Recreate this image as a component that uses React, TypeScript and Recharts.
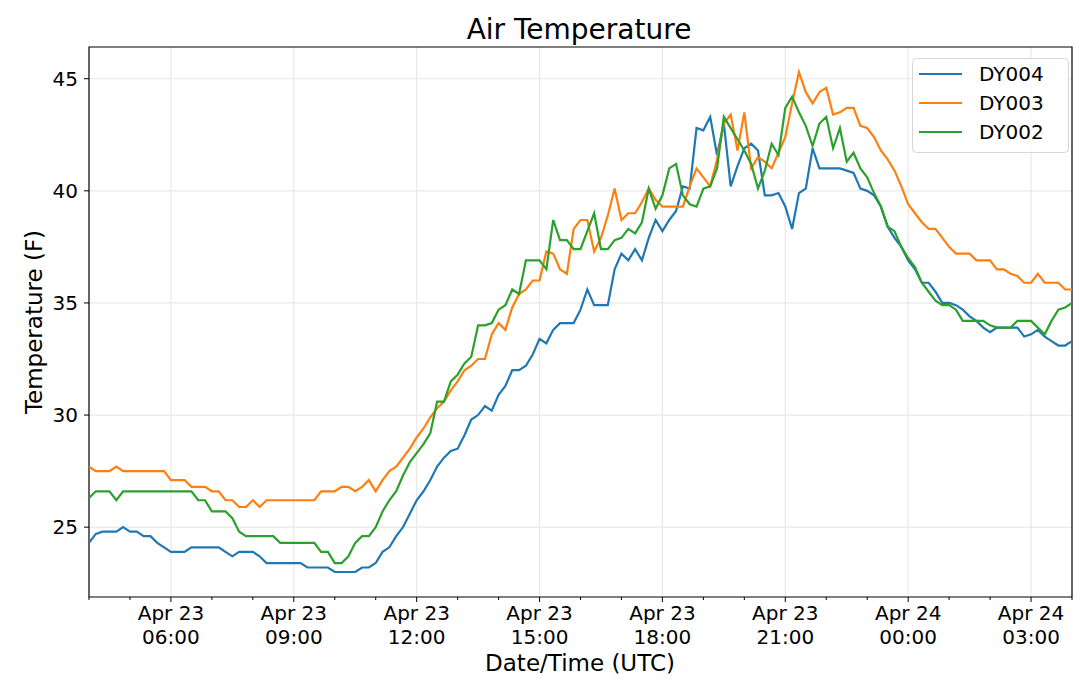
import { LineChart, Line, XAxis, YAxis, CartesianGrid, Legend, ReferenceArea } from "recharts";

// 10-minute readings starting Apr 23 04:00 UTC
const dy004 = [
  24.3, 24.7, 24.8, 24.8, 24.8, 25.0, 24.8, 24.8, 24.6, 24.6,
  24.3, 24.1, 23.9, 23.9, 23.9, 24.1, 24.1, 24.1, 24.1, 24.1,
  23.9, 23.7, 23.9, 23.9, 23.9, 23.7, 23.4, 23.4, 23.4, 23.4,
  23.4, 23.4, 23.2, 23.2, 23.2, 23.2, 23.0, 23.0, 23.0, 23.0,
  23.2, 23.2, 23.4, 23.9, 24.1, 24.6, 25.0, 25.6, 26.2, 26.6,
  27.1, 27.7, 28.1, 28.4, 28.5, 29.1, 29.8, 30.0, 30.4, 30.2,
  30.9, 31.3, 32.0, 32.0, 32.2, 32.7, 33.4, 33.2, 33.8, 34.1,
  34.1, 34.1, 34.7, 35.6, 34.9, 34.9, 34.9, 36.5, 37.2, 36.9,
  37.4, 36.9, 37.9, 38.7, 38.2, 38.7, 39.1, 40.2, 40.1, 42.8,
  42.7, 43.3, 41.6, 43.0, 40.2, 41.1, 41.9, 42.1, 41.8, 39.8,
  39.8, 39.9, 39.3, 38.3, 39.9, 40.1, 41.9, 41.0, 41.0, 41.0,
  41.0, 40.9, 40.8, 40.1, 40.0, 39.8, 39.3, 38.4, 37.9, 37.5,
  36.9, 36.5, 35.9, 35.9, 35.5, 35.0, 35.0, 34.9, 34.7, 34.4,
  34.2, 33.9, 33.7, 33.9, 33.9, 33.9, 33.9, 33.5, 33.6, 33.8,
  33.5, 33.3, 33.1, 33.1, 33.3,
];

const dy003 = [
  27.7, 27.5, 27.5, 27.5, 27.7, 27.5, 27.5, 27.5, 27.5, 27.5,
  27.5, 27.5, 27.1, 27.1, 27.1, 26.8, 26.8, 26.8, 26.6, 26.6,
  26.2, 26.2, 25.9, 25.9, 26.2, 25.9, 26.2, 26.2, 26.2, 26.2,
  26.2, 26.2, 26.2, 26.2, 26.6, 26.6, 26.6, 26.8, 26.8, 26.6,
  26.8, 27.1, 26.6, 27.1, 27.5, 27.7, 28.1, 28.5, 29.0, 29.4,
  29.9, 30.3, 30.6, 31.1, 31.5, 32.0, 32.2, 32.5, 32.5, 33.6,
  34.1, 33.8, 34.8, 35.4, 35.6, 36.0, 36.0, 37.3, 37.2, 36.5,
  36.3, 38.3, 38.7, 38.7, 37.3, 37.9, 38.9, 40.1, 38.7, 39.0,
  39.0, 39.5, 40.1, 39.6, 39.3, 39.3, 39.3, 39.3, 40.2, 41.0,
  40.6, 40.2, 41.4, 43.0, 43.4, 41.8, 43.5, 41.0, 41.5, 41.3,
  41.0, 41.7, 42.4, 43.9, 45.3, 44.4, 43.9, 44.4, 44.6, 43.4,
  43.5, 43.7, 43.7, 42.9, 42.8, 42.4, 41.8, 41.4, 40.9, 40.2,
  39.4, 39.0, 38.6, 38.3, 38.3, 37.9, 37.5, 37.2, 37.2, 37.2,
  36.9, 36.9, 36.9, 36.5, 36.5, 36.3, 36.2, 35.9, 35.9, 36.3,
  35.9, 35.9, 35.9, 35.6, 35.6,
];

const dy002 = [
  26.3, 26.6, 26.6, 26.6, 26.2, 26.6, 26.6, 26.6, 26.6, 26.6,
  26.6, 26.6, 26.6, 26.6, 26.6, 26.6, 26.2, 26.2, 25.7, 25.7,
  25.7, 25.4, 24.8, 24.6, 24.6, 24.6, 24.6, 24.6, 24.3, 24.3,
  24.3, 24.3, 24.3, 24.3, 23.9, 23.9, 23.4, 23.4, 23.7, 24.3,
  24.6, 24.6, 25.0, 25.7, 26.2, 26.6, 27.3, 27.9, 28.3, 28.7,
  29.2, 30.6, 30.6, 31.5, 31.8, 32.3, 32.6, 34.0, 34.0, 34.1,
  34.7, 34.9, 35.6, 35.4, 36.9, 36.9, 36.9, 36.5, 38.7, 37.8,
  37.8, 37.4, 37.4, 38.2, 39.0, 37.4, 37.4, 37.8, 37.9, 38.3,
  38.1, 38.6, 40.1, 39.2, 39.8, 41.0, 41.2, 39.8, 39.4, 39.3,
  40.1, 40.2, 41.0, 43.3, 42.8, 42.3, 41.8, 41.2, 40.1, 40.9,
  42.1, 41.6, 43.7, 44.2, 43.5, 42.9, 42.0, 43.0, 43.3, 41.9,
  42.8, 41.3, 41.7, 41.0, 40.6, 39.9, 39.3, 38.4, 38.2, 37.5,
  37.0, 36.6, 35.9, 35.5, 35.1, 34.9, 34.9, 34.7, 34.2, 34.2,
  34.2, 34.2, 34.0, 33.9, 33.9, 33.9, 34.2, 34.2, 34.2, 33.9,
  33.6, 34.2, 34.7, 34.8, 35.0,
];

const seriesNames = ["DY004", "DY003", "DY002"];
const seriesColors = ["#1f77b4", "#ff7f0e", "#2ca02c"];

// minutes after Apr 23 04:00
const majorTicks = [120, 300, 480, 660, 840, 1020, 1200, 1380];
const minorTicks = [0, 60, 180, 240, 360, 420, 540, 600, 720, 780, 900, 960, 1080, 1140, 1260, 1320, 1440];
const yTicks = [25, 30, 35, 40, 45];

const Y_MIN = 21.885;
const Y_MAX = 46.415;
const FONT = "DejaVu Sans, sans-serif";

const data = dy004.map((v, i) => ({
  t: i * 10,
  DY004: v,
  DY003: dy003[i],
  DY002: dy002[i],
}));

const allXTicks = [...majorTicks, ...minorTicks].sort((a, b) => a - b);

function tickLabel(m: number) {
  const total = 4 * 60 + m;
  const day = 23 + Math.floor(total / 1440);
  const h = Math.floor((total % 1440) / 60);
  return [`Apr ${day}`, `${String(h).padStart(2, "0")}:00`];
}

const XTick = (props: any) => {
  const { x, y, payload } = props;
  const major = majorTicks.includes(payload.value);
  const [l1, l2] = tickLabel(payload.value);
  return (
    <g>
      <line x1={x} x2={x} y1={y} y2={y + (major ? 5 : 3)} stroke="#000" strokeWidth={1} />
      {major && (
        <text x={x} y={y} textAnchor="middle" fontSize={20} fontFamily={FONT} fill="#000">
          <tspan x={x} dy={23}>{l1}</tspan>
          <tspan x={x} dy={24}>{l2}</tspan>
        </text>
      )}
    </g>
  );
};

const LegendBox = () => (
  <svg width={158} height={96}>
    <rect x={0.5} y={0.5} width={156} height={94} rx={4} fill="rgba(255,255,255,0.8)" stroke="#d6d6d6" />
    {seriesNames.map((name, i) => (
      <g key={name}>
        <line x1={7} x2={50} y1={16 + i * 29} y2={16 + i * 29} stroke={seriesColors[i]} strokeWidth={2} />
        <text x={67} y={23 + i * 29} fontSize={20} fontFamily={FONT} fill="#000">
          {name}
        </text>
      </g>
    ))}
  </svg>
);

export default function App() {
  return (
    <div style={{ position: "absolute", left: 0, top: 0, width: 1080, height: 691, background: "#fff" }}>
      <LineChart width={1080} height={691} data={data} margin={{ top: 47, right: 8, bottom: 0, left: 0 }}>
        <CartesianGrid verticalValues={majorTicks} horizontalValues={yTicks} stroke="#e8e8e8" strokeWidth={1.2} />
        <XAxis
          dataKey="t"
          type="number"
          domain={[0, 1440]}
          ticks={allXTicks}
          interval={0}
          height={94}
          axisLine={false}
          tickLine={false}
          tickSize={0}
          tickMargin={0}
          tick={<XTick />}
          allowDataOverflow
        />
        <YAxis
          domain={[Y_MIN, Y_MAX]}
          ticks={yTicks}
          width={89}
          axisLine={false}
          tickSize={5}
          tickMargin={6}
          tickLine={{ stroke: "#000" }}
          tick={{ fontSize: 20, fontFamily: FONT, fill: "#000" }}
          allowDataOverflow
        />
        {seriesNames.map((name, i) => (
          <Line
            key={name}
            dataKey={name}
            stroke={seriesColors[i]}
            strokeWidth={2.2}
            dot={false}
            type="linear"
            isAnimationActive={false}
          />
        ))}
        <ReferenceArea x1={0} x2={1440} y1={Y_MIN} y2={Y_MAX} fill="none" stroke="#000" strokeWidth={1.2} />
        <Legend
          layout="vertical"
          align="center"
          verticalAlign="middle"
          wrapperStyle={{ top: 58, left: 912, width: 158, height: 96 }}
          content={() => <LegendBox />}
        />
      </LineChart>
      <svg
        width={1080}
        height={691}
        style={{ position: "absolute", left: 0, top: 0, pointerEvents: "none" }}
        fontFamily={FONT}
      >
        <text x={579} y={39} textAnchor="middle" fontSize={28} fill="#000">
          Air Temperature
        </text>
        <text x={580} y={671} textAnchor="middle" fontSize={23} fill="#000">
          Date/Time (UTC)
        </text>
        <text x={42} y={322} textAnchor="middle" fontSize={23} fill="#000" transform="rotate(-90 42 322)">
          Temperature (F)
        </text>
      </svg>
    </div>
  );
}
